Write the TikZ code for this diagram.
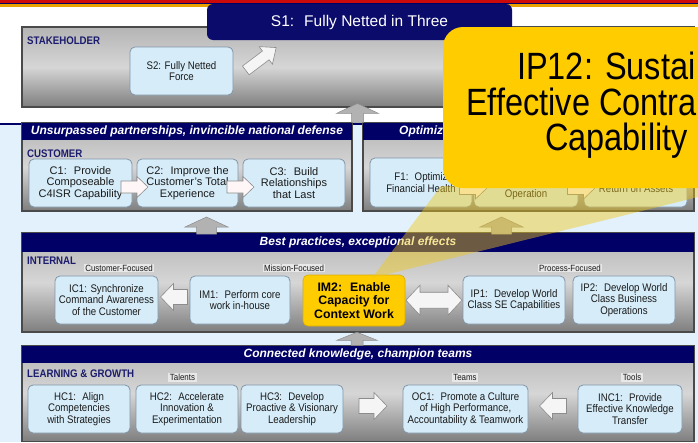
\documentclass[tikz,border=0pt]{standalone}
\usepackage{fontspec}
\setmainfont{Liberation Sans}
\newfontfamily\bxf[FakeStretch=0.88]{Liberation Sans}
\newfontfamily\clf[FakeStretch=0.855]{Liberation Sans}
\usetikzlibrary{calc}
\definecolor{navyc}{HTML}{000066}
\definecolor{sone}{HTML}{0B0B6C}
\definecolor{lblue}{HTML}{E2F1FB}
\definecolor{boxfill}{HTML}{D6EDF9}
\definecolor{boxline}{HTML}{8395A8}
\definecolor{goldc}{HTML}{FFCC00}
\definecolor{labnavy}{HTML}{1C1C6E}
\definecolor{stripred}{HTML}{CC0A0A}
\definecolor{stripgold}{HTML}{E8A200}
\definecolor{pgtop}{HTML}{B4B4B4}
\definecolor{pgmid}{HTML}{D6D6D6}
\definecolor{pgbot}{HTML}{7E7E7E}
\definecolor{pgline}{HTML}{4A4A4A}
\definecolor{txt}{HTML}{1A1A1A}
\definecolor{hatchc}{HTML}{F0C81A}
\tikzset{
  pics/barrow/.style n args={4}{code={
    \path[pic actions] (-#1/2,-#2) -- (#1/2-#4,-#2) -- (#1/2-#4,-#3) -- (#1/2,0)
      -- (#1/2-#4,#3) -- (#1/2-#4,#2) -- (-#1/2,#2) -- cycle;
  }},
  pics/dbarrow/.style n args={4}{code={
    \path[pic actions] (-#1/2,0) -- (-#1/2+#4,-#3) -- (-#1/2+#4,-#2) -- (#1/2-#4,-#2)
      -- (#1/2-#4,-#3) -- (#1/2,0) -- (#1/2-#4,#3) -- (#1/2-#4,#2)
      -- (-#1/2+#4,#2) -- (-#1/2+#4,#3) -- cycle;
  }},
}
\begin{document}
\begin{tikzpicture}[x=1pt,y=-1pt,
  panel/.style={draw=pgline, line width=1.2pt, top color=pgtop, bottom color=pgbot, middle color=pgmid, inner sep=0pt},
  hdr/.style={fill=navyc, inner sep=0pt, text=white, font=\bfseries\itshape\fontsize{12}{14}\selectfont},
  hdrtext/.style={inner sep=0pt, text=white, font=\bfseries\itshape\fontsize{12}{14}\selectfont},
  bx/.style={draw=boxline, fill=boxfill, line width=0.8pt, rounded corners=5pt, align=center, inner sep=0pt,
     text=txt, font=\bxf\fontsize{11}{11.5}\selectfont, minimum width=103pt, minimum height=48pt},
  cbx/.style={bx, font=\fontsize{11}{11.5}\selectfont},
  bxtext/.style={inner sep=0pt, text=txt, font=\bxf\fontsize{11}{11.5}\selectfont},
  lab/.style={anchor=west, inner sep=0pt, text=labnavy, font=\bxf\bfseries\fontsize{11}{12}\selectfont},
  sublab/.style={fill=black!9, inner xsep=1.5pt, inner ysep=1pt, text=txt, font=\bxf\fontsize{9}{10}\selectfont},
  s1box/.style={fill=sone, rounded corners=6pt, minimum width=305pt, minimum height=36pt, inner sep=0pt,
     text=white, font=\fontsize{15.5}{17}\selectfont},
  warrow/.style={fill=black!4, draw=black!45, line width=0.6pt},
  carrow/.style={fill=red!3!white, draw=black!45, line width=0.6pt},
  garrow/.style={fill=black!30, draw=black!45, line width=0.5pt},
  calltext/.style={anchor=base west, inner sep=0pt, text=black, font=\clf\fontsize{38}{40}\selectfont}
]
\useasboundingbox (0,0) rectangle (698,442);
% background
\fill[white] (0,0) rectangle (698,442);
\fill[lblue] (0,123) rectangle (698,442);
\draw[navyc, line width=2pt] (0,123.5) -- (698,123.5);
\fill[stripred] (0,0) rectangle (698,3);
\fill[navyc] (0,3) rectangle (698,4.3);
\fill[stripgold] (0,4.3) rectangle (698,6.5);

% ---------- Stakeholder ----------
\node[panel, minimum width=672pt, minimum height=80pt] (stake) at (358,67) {};
\node[s1box] (s1) at (359.5,22) {S1:~ Fully Netted in Three};
\node[lab] (lstake) at (27,41) {STAKEHOLDER};
\node[bx] (s2) at (181.5,71) {S2: Fully Netted\\Force};
\coordinate (s2s1) at (261,59);
\pic[warrow, rotate=37] at (s2s1) {barrow={38}{5.5}{11}{13}};

% ---------- Customer ----------
\node[panel, minimum width=330pt, minimum height=88pt] (cust) at (187,167) {};
\node[hdr, minimum width=330pt, minimum height=17pt] (custh) at (187,131.5) {Unsurpassed partnerships, invincible national defense};
\node[lab] (lcust) at (27,153.5) {CUSTOMER};
\node[cbx] (c1) at (80.5,183) {C1:~ Provide\\Composeable\\C4ISR Capability};
\node[cbx, minimum width=101pt] (c2) at (187.5,183) {C2:~ Improve the\\Customer's Total\\Experience};
\node[cbx, minimum width=102pt] (c3) at (294,183) {C3:~ Build\\Relationships\\that Last};
\pic[carrow] at ($(c1.east)!0.5!(c2.west)+(0,4)$) {barrow={27}{6}{10.5}{11}};
\pic[carrow] at ($(c2.east)!0.5!(c3.west)+(0,4)$) {barrow={27}{6}{10.5}{11}};

% ---------- Financial ----------
\node[panel, minimum width=331pt, minimum height=88pt] (fin) at (528.5,167) {};
\node[hdr, minimum width=331pt, minimum height=17pt] (finh) at (528.5,131.5) {};
\node[hdrtext, anchor=west] (fint) at (399,131.5) {Optimiz};
\node[bx, minimum width=102pt, minimum height=49pt] (f1) at (421,182.5) {F1:~ Optimiz\\Financial Health};
\node[bx, minimum width=104pt, minimum height=49pt] (f2) at (526,182.5) {};
\node[bx, minimum width=103pt, minimum height=49pt] (f3) at (635.5,182.5) {};
\node[bxtext] (f2t) at (526,194.5) {Operation};
\node[bxtext] (f3t) at (636,189) {Return on Assets};
\pic[carrow] at ($(f1.east)!0.5!(f2.west)+(0,6)$) {barrow={27}{6}{10.5}{11}};
\pic[carrow] at ($(f2.east)!0.5!(f3.west)+(0,6)$) {barrow={27}{6}{10.5}{11}};

% up arrow to stakeholder
\pic[garrow, rotate=90] at ($(cust.north east)!0.5!(fin.north west)+(0,-9.5)$) {barrow={19}{6}{21}{10}};

% ---------- Internal ----------
\node[panel, minimum width=672pt, minimum height=99pt] (int) at (358,282.5) {};
\node[hdr, minimum width=672pt, minimum height=19pt] (inth) at (358,242.5) {Best practices, exceptional effects};
\pic[garrow, rotate=90] at (206.5,225.5) {barrow={17}{10}{21.5}{10}};
\pic[garrow, rotate=90] at (501.5,225.5) {barrow={17}{10}{21.5}{10}};
\node[lab] (lint) at (27,260.5) {INTERNAL};
\node[sublab] (lcf) at (119,268) {Customer-Focused};
\node[sublab] (lmf) at (294,268) {Mission-Focused};
\node[sublab] (lpf) at (570,268) {Process-Focused};
\node[bx] (ic1) at (106.5,300) {IC1: Synchronize\\Command Awareness\\of the Customer};
\node[bx, minimum width=100pt] (im1) at (240,300) {IM1:~ Perform core\\work in-house};
\node[bx, fill=goldc, draw=goldc!85!black, line width=0.6pt, minimum width=102pt, minimum height=51pt,
      text=black, font=\bfseries\fontsize{12.3}{13.5}\selectfont] (im2) at (354,300.5) {IM2:~ Enable\\Capacity for\\Context Work};
\node[bx, minimum width=102pt] (ip1) at (514,300) {IP1:~ Develop World\\Class SE Capabilities};
\node[bx, minimum width=102pt] (ip2) at (624,300) {IP2:~ Develop World\\Class Business\\Operations};
\pic[warrow, rotate=180] at ($(ic1.east)!0.5!(im1.west)+(0,-3)$) {barrow={27}{7.5}{13.5}{13}};
\pic[warrow] at ($(im2.east)!0.5!(ip1.west)$) {dbarrow={56}{8}{15}{14}};

% ---------- Learning & Growth ----------
\node[panel, minimum width=672pt, minimum height=96pt] (lg) at (358,393.5) {};
\node[hdr, minimum width=672pt, minimum height=17pt] (lgh) at (358,354) {Connected knowledge, champion teams};
\pic[garrow, rotate=90] at ($(int.south)!0.5!(lg.north)+(-1,0)$) {barrow={13}{6}{20}{8}};
\node[lab] (llg) at (27,373.5) {LEARNING \& GROWTH};
\node[sublab] (ltal) at (182.5,377.5) {Talents};
\node[sublab] (ltea) at (465,377.5) {Teams};
\node[sublab] (ltoo) at (632,377.5) {Tools};
\node[bx, minimum width=102pt] (hc1) at (79,409) {HC1:~ Align\\Competencies\\with Strategies};
\node[bx, minimum width=102pt] (hc2) at (187,409) {HC2:~ Accelerate\\Innovation \&\\Experimentation};
\node[bx, minimum width=102pt] (hc3) at (292,409) {HC3:~ Develop\\Proactive \& Visionary\\Leadership};
\node[bx, minimum width=125pt] (oc1) at (465.5,409) {OC1:~ Promote a Culture\\of High Performance,\\Accountability \& Teamwork};
\node[bx, minimum width=104pt] (inc1) at (630,409) {INC1:~ Provide\\Effective Knowledge\\Transfer};
\pic[warrow] at ($(hc3.east)!0.5!(oc1.west)+(0,-3)$) {barrow={28}{7.5}{13.5}{13}};
\pic[warrow, rotate=180] at ($(oc1.east)!0.5!(inc1.west)+(0,-3)$) {barrow={27}{7.5}{13.5}{13}};

% ---------- callout pointer and callout ----------
\fill[hatchc, fill opacity=0.45] (441,186) -- (698,186) -- (698,197) -- (372,278) -- cycle;
\begin{scope}
  \clip (0,0) rectangle (698,442);
  \fill[goldc, rounded corners=20pt] (443,27) rectangle (740,188);
\end{scope}
\node[calltext] (cl1) at (517,79) {IP12: Sustai};
\node[calltext] (cl2) at (466,115) {Effective Contra};
\node[calltext] (cl3) at (545,150) {Capability};
\end{tikzpicture}
\end{document}
